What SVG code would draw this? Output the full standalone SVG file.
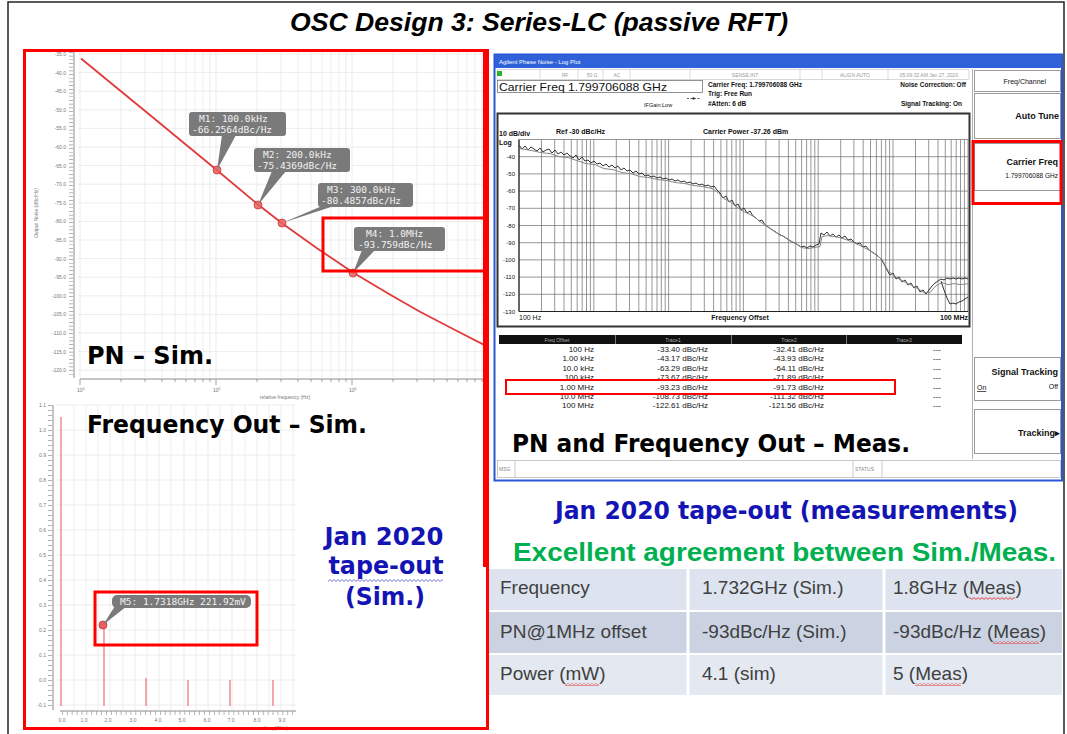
<svg xmlns="http://www.w3.org/2000/svg" width="1067" height="734" viewBox="0 0 1067 734">
<defs>
<style>
.big{font-family:"DejaVu Sans","Liberation Sans",sans-serif;font-weight:bold}
.blue{fill:#1414b4}
.grn{fill:#00b050}
.tiny{font-family:"Liberation Sans",Arial,sans-serif;font-size:5px;fill:#777}
.mk{font-family:"DejaVu Sans Mono","Liberation Mono",monospace;font-size:9.5px;fill:#f2f2f2}
.ui{font-family:"Liberation Sans",Arial,sans-serif;fill:#111}
.row{font-family:"Liberation Sans",Arial,sans-serif;font-size:8px;fill:#111;text-anchor:end}
.tbl{font-family:"Liberation Sans",Arial,sans-serif;font-size:19px;fill:#404040}
.grid{stroke:#e9e9e9;stroke-width:0.8;fill:none}
.mgrid{stroke:#6a6a6a;stroke-width:0.7;fill:none}
.red{fill:none;stroke:#ff0000;stroke-width:3}
.btn{fill:#fff;stroke:#9a9a9a;stroke-width:1}
.lbl{fill:#7a7a7a}
</style>
<pattern id="wr" width="4" height="3" patternUnits="userSpaceOnUse"><path d="M0 2.4 L2 0.6 L4 2.4" fill="none" stroke="#e03030" stroke-width="0.9"/></pattern>
<pattern id="wb" width="4" height="3" patternUnits="userSpaceOnUse"><path d="M0 2.4 L2 0.6 L4 2.4" fill="none" stroke="#6a6ad8" stroke-width="0.9"/></pattern>
</defs>
<rect width="1067" height="734" fill="#fff"/>
<rect x="8" y="2" width="1056" height="740" fill="none" stroke="#222" stroke-width="1.5"/>

<g id="title">
<text x="539" y="31" text-anchor="middle" font-family="Liberation Sans, sans-serif" font-weight="bold" font-style="italic" font-size="26" textLength="498" lengthAdjust="spacingAndGlyphs">OSC Design 3: Series-LC (passive RFT)</text>
</g>

<g id="pn-sim">
<path class="grid" d="M78 54H487M78 72.6H487M78 91.2H487M78 109.8H487M78 128.4H487M78 147H487M78 165.6H487M78 184.2H487M78 202.8H487M78 221.4H487M78 240H487M78 258.6H487M78 277.2H487M78 295.8H487M78 314.4H487M78 333H487M78 351.6H487M78 370.2H487"/>
<path class="grid" d="M80 52V377M121 52V377M145 52V377M162 52V377M175 52V377M186 52V377M195 52V377M203 52V377M210 52V377M216 52V377M257 52V377M281 52V377M298 52V377M311 52V377M322 52V377M331 52V377M339 52V377M346 52V377M352 52V377M393 52V377M417 52V377M434 52V377M447 52V377M458 52V377M467 52V377M475 52V377M482 52V377"/>
<line x1="74" y1="52" x2="74" y2="378" stroke="#8a8a8a" stroke-width="1"/>
<line x1="71" y1="52" x2="71" y2="377" stroke="#9a9a9a" stroke-width="4" stroke-dasharray="0.7 3"/>
<line x1="80" y1="379" x2="487" y2="379" stroke="#8a8a8a" stroke-width="1"/>
<path d="M80 379v6M121 379v3M145 379v3M162 379v3M175 379v3M186 379v3M195 379v3M203 379v3M210 379v3M216 379v6M257 379v3M281 379v3M298 379v3M311 379v3M322 379v3M331 379v3M339 379v3M346 379v3M352 379v6M393 379v3M417 379v3M434 379v3M447 379v3M458 379v3M467 379v3M475 379v3M482 379v3" stroke="#8a8a8a" stroke-width="0.8"/>
<g class="tiny" text-anchor="end">
<text x="66" y="56">-35.0</text><text x="66" y="74.6">-40.0</text><text x="66" y="93.2">-45.0</text><text x="66" y="111.8">-50.0</text><text x="66" y="130.4">-55.0</text><text x="66" y="149">-60.0</text><text x="66" y="167.6">-65.0</text><text x="66" y="186.2">-70.0</text><text x="66" y="204.8">-75.0</text><text x="66" y="223.4">-80.0</text><text x="66" y="242">-85.0</text><text x="66" y="260.6">-90.0</text><text x="66" y="279.2">-95.0</text><text x="66" y="297.8">-100.0</text><text x="66" y="316.4">-105.0</text><text x="66" y="335">-110.0</text><text x="66" y="353.6">-115.0</text><text x="66" y="372.2">-120.0</text>
</g>
<text class="tiny" x="38" y="213" text-anchor="middle" transform="rotate(-90 38 213)">Output Noise (dBc/Hz)</text>
<g class="tiny"><text x="77" y="392">10<tspan dy="-2" font-size="3.5">4</tspan></text><text x="213" y="392">10<tspan dy="-2" font-size="3.5">5</tspan></text><text x="349" y="392">10<tspan dy="-2" font-size="3.5">6</tspan></text></g>
<text class="tiny" x="285" y="399" text-anchor="middle">relative frequency (Hz)</text>
<polyline points="81,58.5 149,114.3 217,170.3 258,204.5 282,223.2 317,248.2 353,272.6 389,294 420,311.8 455,330 487,346.4" fill="none" stroke="#e03a3a" stroke-width="1.8"/>
<g fill="#e86060" stroke="#d03030" stroke-width="0.8" fill-opacity="0.85">
<circle cx="217" cy="170" r="4"/><circle cx="258" cy="205" r="4"/><circle cx="282" cy="223" r="4"/><circle cx="353" cy="273" r="4"/>
</g>
<g class="lbl">
<rect x="189" y="112" width="97" height="24" rx="3"/><polygon points="222,135 236,135 217,170"/>
<rect x="254" y="148" width="96" height="24" rx="3"/><polygon points="272,171 286,171 258,205"/>
<rect x="318" y="183" width="95" height="24" rx="3"/><polygon points="322,206 334,206 282,223"/>
<rect x="354" y="227" width="91" height="24" rx="3"/><polygon points="362,250 375,250 353,273"/>
</g>
<g class="mk">
<text x="199" y="122">M1: 100.0kHz</text><text x="192" y="133">-66.2564dBc/Hz</text>
<text x="263" y="158">M2: 200.0kHz</text><text x="257" y="169">-75.4369dBc/Hz</text>
<text x="327" y="193">M3: 300.0kHz</text><text x="321" y="204">-80.4857dBc/Hz</text>
<text x="366" y="237">M4: 1.0MHz</text><text x="358" y="248">-93.759dBc/Hz</text>
</g>
<rect class="red" x="323" y="218" width="164" height="53"/>
<text class="big" x="87" y="364" font-size="25" textLength="126" lengthAdjust="spacingAndGlyphs">PN – Sim.</text>
</g>

<g id="freq-sim">
<path class="grid" d="M56 405H296M56 430H296M56 455H296M56 480H296M56 505H296M56 530H296M56 555H296M56 580H296M56 605H296M56 630H296M56 655H296M56 680H296M56 705H296"/>
<path class="grid" d="M74 405V710M86 405V710M98 405V710M110 405V710M123 405V710M135 405V710M147 405V710M159 405V710M171 405V710M184 405V710M196 405V710M208 405V710M220 405V710M232 405V710M245 405V710M257 405V710M269 405V710M281 405V710M293 405V710"/>
<line x1="53" y1="405" x2="53" y2="710" stroke="#8a8a8a" stroke-width="1"/>
<line x1="50" y1="405" x2="50" y2="710" stroke="#9a9a9a" stroke-width="4" stroke-dasharray="0.7 4.3"/>
<line x1="60" y1="711" x2="296" y2="711" stroke="#8a8a8a" stroke-width="1"/>
<line x1="62" y1="713" x2="296" y2="713" stroke="#9a9a9a" stroke-width="4" stroke-dasharray="0.7 4.2"/>
<g class="tiny" text-anchor="end">
<text x="46" y="407">1.1</text><text x="46" y="432">1.0</text><text x="46" y="457">0.9</text><text x="46" y="482">0.8</text><text x="46" y="507">0.7</text><text x="46" y="532">0.6</text><text x="46" y="557">0.5</text><text x="46" y="582">0.4</text><text x="46" y="607">0.3</text><text x="46" y="632">0.2</text><text x="46" y="657">0.1</text><text x="46" y="682">0.0</text><text x="46" y="707">-0.1</text>
</g>
<g class="tiny" text-anchor="middle">
<text x="62" y="722">0.0</text><text x="84" y="722">1.0</text><text x="108" y="722">2.0</text><text x="133" y="722">3.0</text><text x="158" y="722">4.0</text><text x="182" y="722">5.0</text><text x="207" y="722">6.0</text><text x="231" y="722">7.0</text><text x="257" y="722">8.0</text><text x="282" y="722">9.0</text>
</g>
<text class="tiny" x="276" y="730" text-anchor="middle">freq (GHz)</text>
<g stroke="#e87070" stroke-width="1.2">
<line x1="61" y1="417" x2="61" y2="706"/><line x1="104" y1="625" x2="104" y2="706"/><line x1="146" y1="678" x2="146" y2="706"/><line x1="188" y1="680" x2="188" y2="706"/><line x1="230" y1="680" x2="230" y2="706"/><line x1="273" y1="680" x2="273" y2="706"/>
</g>
<circle cx="103" cy="625" r="4" fill="#e86060" stroke="#d03030" stroke-width="0.8"/>
<g class="lbl"><rect x="112" y="595" width="139" height="13" rx="5"/><polygon points="115,606 127,606 103,625"/></g>
<text class="mk" x="120" y="604.5" font-size="8.5">M5: 1.7318GHz 221.92mV</text>
<rect class="red" x="95" y="592" width="162" height="53"/>
<text class="big" x="87" y="433" font-size="24" textLength="280" lengthAdjust="spacingAndGlyphs">Frequency Out – Sim.</text>
<g class="big blue" font-size="24" text-anchor="middle">
<text x="384" y="545" textLength="119" lengthAdjust="spacingAndGlyphs">Jan 2020</text>
<text x="386" y="574" textLength="115" lengthAdjust="spacingAndGlyphs">tape-out</text>
<text x="385" y="605" textLength="80" lengthAdjust="spacingAndGlyphs">(Sim.)</text>
</g>
<rect x="328" y="579" width="115" height="3" fill="url(#wb)"/>
</g>

<g id="left-frame">
<rect class="red" x="24.5" y="50.5" width="463" height="678"/>
<rect x="483" y="49" width="5" height="518" fill="#ff0000"/>
</g>

<g id="pn-meas">
<rect x="494.5" y="54.5" width="567.5" height="426" fill="#fff" stroke="#2a55d5" stroke-width="2"/>
<rect x="495" y="55" width="567" height="13" fill="#2f62d8"/>
<text x="499" y="64" font-family="Liberation Sans, sans-serif" font-size="6" fill="#fff">Agilent Phase Noise - Log Plot</text>
<rect x="497" y="69.5" width="472" height="10" fill="#fff" stroke="#c8c8c8" stroke-width="0.7"/>
<path d="M540 69.5v10M578 69.5v10M603 69.5v10M630 69.5v10M690 69.5v10M800 69.5v10M822 69.5v10M888 69.5v10" stroke="#c8c8c8" stroke-width="0.7"/>
<rect x="497" y="71" width="5" height="5" fill="#2ab02a"/>
<g font-family="Liberation Sans, sans-serif" font-size="5" fill="#999" text-anchor="middle">
<text x="565" y="76.5">RF</text><text x="592" y="76.5">50 Ω</text><text x="617" y="76.5">AC</text><text x="745" y="76.5">SENSE:INT</text><text x="855" y="76.5">ALIGN AUTO</text><text x="929" y="76.5">05:09:32 AM Jan 27, 2020</text>
</g>
<rect x="497.5" y="80.5" width="205" height="12" fill="#fff" stroke="#777" stroke-width="0.8"/>
<text class="ui" x="499" y="90.5" font-size="11" textLength="168" lengthAdjust="spacingAndGlyphs">Carrier Freq  1.799706088 GHz</text>
<g class="ui" font-size="6.5" font-weight="bold">
<text x="708" y="87">Carrier Freq: 1.799706088 GHz</text>
<text x="708" y="96">Trig: Free Run</text>
<text x="708" y="106">#Atten: 6 dB</text>
<text x="644" y="107" font-size="5.5" font-weight="normal">IFGain:Low</text>
<text x="966" y="87" text-anchor="end">Noise Correction: Off</text>
<text x="962" y="106" text-anchor="end">Signal Tracking: On</text>
</g>
<path d="M687 98.5h13" stroke="#333" stroke-width="0.8" stroke-dasharray="2 1.5"/><circle cx="693.5" cy="98.5" r="1.2" fill="#333"/>
<rect x="497.5" y="113.5" width="472" height="213" fill="#fff" stroke="#333" stroke-width="2"/>
<g class="ui" font-size="7" font-weight="bold">
<text x="499" y="136">10 dB/div</text><text x="499" y="145">Log</text>
<text x="556" y="134">Ref  -30 dBc/Hz</text>
<text x="703" y="134">Carrier Power -37.26 dBm</text>
<text x="519" y="320" font-weight="normal">100 Hz</text>
<text x="740" y="320" text-anchor="middle">Frequency Offset</text>
<text x="968" y="320" text-anchor="end">100 MHz</text>
</g>
<path class="mgrid" d="M519 139.5H968M519 156.7H968M519 173.9H968M519 191.1H968M519 208.3H968M519 225.5H968M519 242.7H968M519 259.9H968M519 277.1H968M519 294.3H968M519 311.5H968"/>
<path class="mgrid" d="M519 139.5V311.5M541.5 139.5V311.5M554.7 139.5V311.5M564 139.5V311.5M571.3 139.5V311.5M577.2 139.5V311.5M582.2 139.5V311.5M586.5 139.5V311.5M590.4 139.5V311.5M593.8 139.5V311.5M616.3 139.5V311.5M629.5 139.5V311.5M638.8 139.5V311.5M646.1 139.5V311.5M652 139.5V311.5M657 139.5V311.5M661.3 139.5V311.5M665.2 139.5V311.5M668.6 139.5V311.5M691.1 139.5V311.5M704.3 139.5V311.5M713.6 139.5V311.5M720.9 139.5V311.5M726.8 139.5V311.5M731.8 139.5V311.5M736.1 139.5V311.5M740 139.5V311.5M743.4 139.5V311.5M765.9 139.5V311.5M779.1 139.5V311.5M788.4 139.5V311.5M795.7 139.5V311.5M801.6 139.5V311.5M806.6 139.5V311.5M810.9 139.5V311.5M814.8 139.5V311.5M818.2 139.5V311.5M840.7 139.5V311.5M853.9 139.5V311.5M863.2 139.5V311.5M870.5 139.5V311.5M876.4 139.5V311.5M881.4 139.5V311.5M885.7 139.5V311.5M889.6 139.5V311.5M893 139.5V311.5M915.5 139.5V311.5M928.7 139.5V311.5M938 139.5V311.5M945.3 139.5V311.5M951.2 139.5V311.5M956.2 139.5V311.5M960.5 139.5V311.5M964.4 139.5V311.5M968 139.5V311.5"/>
<line x1="519" y1="139.5" x2="519" y2="311.5" stroke="#222" stroke-width="1.2"/>
<line x1="519" y1="311.5" x2="968" y2="311.5" stroke="#222" stroke-width="1.2"/>
<g class="ui" font-size="6" text-anchor="end">
<text x="515" y="159">-40</text><text x="515" y="176">-50</text><text x="515" y="193">-60</text><text x="515" y="210">-70</text><text x="515" y="228">-80</text><text x="515" y="245">-90</text><text x="515" y="262">-100</text><text x="515" y="279">-110</text><text x="515" y="296">-120</text><text x="515" y="314">-130</text>
</g>
<g fill="none" stroke-width="1">
<polyline id="trace" stroke="#333" points="519,145 522,149 525,146 528,150 531,147 534,149 537,151 540,148 543,152 546,150 549,149 552,153 555,150 558,154 561,152 564,155 567,153 570,156 573,158 576,155 579,160 582,157 585,161 588,160 591,163 594,161 597,164 600,163 603,166 606,164 609,167 612,165 615,168 618,166 621,170 624,168 627,171 630,170 633,173 636,171 639,174 642,173 645,176 648,175 651,177 654,176 657,178 660,177 663,179 666,178 669,180 672,179 675,181 678,180 681,182 684,181 687,183 690,182 693,184 696,183 699,185 702,184 705,186 708,185 711,187 714,186 717,190 720,193 723,198 726,196 729,202 732,200 735,206 738,204 741,210 744,208 747,213 750,211 753,216 756,218 759,221 762,220 765,225 768,227 771,229 774,231 777,233 780,235 783,236 786,238 789,240 792,242 795,243 798,245 801,247 804,246 807,248 810,246 813,247 816,245 819,244 821,233 824,235 827,232 830,236 833,234 836,237 839,235 842,238 845,236 848,240 851,239 854,242 857,244 860,243 863,247 866,246 869,250 872,252 875,254 878,256 881,259 884,264 887,270 890,275 893,273 896,279 899,277 902,282 905,280 908,285 911,283 914,288 917,286 920,292 923,290 926,294 929,290 932,286 935,283 938,281 941,279 944,280 947,278 950,279 953,278 956,279 959,278 962,279 965,278 968,279"/>
<polyline stroke="#888" transform="translate(1 1.6)" points="519,147 525,148 531,149 540,151 549,152 558,155 567,156 576,159 585,162 594,163 603,167 612,168 621,171 630,172 639,175 648,176 657,178 666,179 675,181 684,182 693,184 702,185 711,187 717,191 723,197 729,200 735,205 741,209 747,212 753,215 759,220 765,224 771,228 777,232 783,235 789,239 795,242 801,246 807,247 813,246 819,245 821,235 827,234 833,235 839,236 845,238 851,240 857,243 863,246 869,249 875,253 881,258 887,269 893,274 899,278 905,281 911,284 917,287 923,291 929,291 935,284 941,281 947,283 953,282 959,283 968,282"/>
<polyline stroke="#333" points="941,281 944,290 947,298 950,304 953,303 956,304 959,302 962,301 965,299 968,297"/>
</g>
<rect x="499" y="335" width="463" height="9" fill="#111"/>
<path d="M615.5 335v9M731.5 335v9M846.5 335v9" stroke="#777" stroke-width="1"/>
<g font-family="Liberation Sans, sans-serif" font-size="5" fill="#aaa" text-anchor="middle">
<text x="557" y="341.5">Freq Offset</text><text x="673" y="341.5">Trace1</text><text x="789" y="341.5">Trace2</text><text x="904" y="341.5">Trace3</text>
</g>
<g class="row">
<text x="594" y="352">100 Hz</text><text x="708" y="352">-33.40 dBc/Hz</text><text x="824" y="352">-32.41 dBc/Hz</text><text x="941" y="352">---</text>
<text x="594" y="361.3">1.00 kHz</text><text x="708" y="361.3">-43.17 dBc/Hz</text><text x="824" y="361.3">-43.93 dBc/Hz</text><text x="941" y="361.3">---</text>
<text x="594" y="370.6">10.0 kHz</text><text x="708" y="370.6">-63.29 dBc/Hz</text><text x="824" y="370.6">-64.11 dBc/Hz</text><text x="941" y="370.6">---</text>
<text x="594" y="379.9">100 kHz</text><text x="708" y="379.9">-73.67 dBc/Hz</text><text x="824" y="379.9">-71.89 dBc/Hz</text><text x="941" y="379.9">---</text>
<text x="594" y="389.6">1.00 MHz</text><text x="708" y="389.6">-93.23 dBc/Hz</text><text x="824" y="389.6">-91.73 dBc/Hz</text><text x="941" y="389.6">---</text>
<text x="594" y="398.9">10.0 MHz</text><text x="708" y="398.9">-108.73 dBc/Hz</text><text x="824" y="398.9">-111.32 dBc/Hz</text><text x="941" y="398.9">---</text>
<text x="594" y="408.2">100 MHz</text><text x="708" y="408.2">-122.61 dBc/Hz</text><text x="824" y="408.2">-121.56 dBc/Hz</text><text x="941" y="408.2">---</text>
</g>
<rect x="506" y="380" width="389" height="14" fill="none" stroke="#ff0000" stroke-width="2"/>
<text class="big" x="512" y="452" font-size="24" textLength="398" lengthAdjust="spacingAndGlyphs">PN and Frequency Out – Meas.</text>
<line x1="972.5" y1="69" x2="972.5" y2="459" stroke="#b0b0b0" stroke-width="1"/>
<rect class="btn" x="974.5" y="70.5" width="86" height="21"/>
<rect class="btn" x="974.5" y="93.5" width="86" height="45"/>
<rect class="btn" x="974.5" y="143.5" width="86" height="47"/>
<rect class="btn" x="974.5" y="357.5" width="86" height="43"/>
<rect class="btn" x="974.5" y="409.5" width="86" height="44"/>
<g class="ui" font-weight="bold" text-anchor="end">
<text x="1046" y="84" font-size="7" font-weight="normal">Freq/Channel</text>
<text x="1059" y="119" font-size="9">Auto Tune</text>
<text x="1058" y="165" font-size="9">Carrier Freq</text>
<text x="1058" y="178" font-size="6.5" font-weight="normal">1.799706088 GHz</text>
<text x="1058" y="375" font-size="9">Signal Tracking</text>
<text x="977" y="390" font-size="7" font-weight="normal" text-anchor="start" text-decoration="underline">On</text>
<text x="1058" y="389" font-size="7" font-weight="normal">Off</text>
<text x="1060" y="436" font-size="9">Tracking▸</text>
</g>
<rect class="red" x="973" y="141.5" width="88" height="62"/>
<rect x="497.5" y="460.5" width="563" height="17" fill="#fff" stroke="#bbb" stroke-width="0.8"/>
<path d="M515 460.5v17M853 460.5v17M882 460.5v17" stroke="#bbb" stroke-width="0.8"/>
<g font-family="Liberation Sans, sans-serif" font-size="5" fill="#888"><text x="499" y="471">MSG</text><text x="855" y="471">STATUS</text></g>
</g>

<g id="summary">
<text class="big blue" x="555" y="519" font-size="24" textLength="463" lengthAdjust="spacingAndGlyphs">Jan 2020 tape-out (measurements)</text>
<text class="grn" x="513" y="561" font-family="Liberation Sans, Arial, sans-serif" font-weight="bold" font-size="26" textLength="543" lengthAdjust="spacingAndGlyphs">Excellent agreement between Sim./Meas.</text>
</g>

<g id="summary-table">
<rect x="489" y="569" width="573" height="41" fill="#dde4ef"/>
<rect x="489" y="612" width="573" height="41" fill="#cbd3e3"/>
<rect x="489" y="655" width="573" height="40" fill="#e3e8f1"/>
<path d="M688 569v126M884 569v126" stroke="#fff" stroke-width="3"/>
<g class="tbl">
<text x="500" y="594">Frequency</text><text x="702" y="594">1.732GHz (Sim.)</text><text x="893" y="594">1.8GHz (Meas)</text>
<text x="500" y="638">PN@1MHz offset</text><text x="702" y="638">-93dBc/Hz (Sim.)</text><text x="893" y="638">-93dBc/Hz (Meas)</text>
<text x="500" y="680">Power (mW)</text><text x="702" y="680">4.1 (sim)</text><text x="893" y="680">5 (Meas)</text>
</g>
<rect x="969" y="597" width="46" height="3" fill="url(#wr)"/>
<rect x="993" y="641" width="46" height="3" fill="url(#wr)"/>
<rect x="915" y="683" width="46" height="3" fill="url(#wr)"/>
<rect x="565" y="683" width="34" height="3" fill="url(#wr)"/>
</g>
</svg>
